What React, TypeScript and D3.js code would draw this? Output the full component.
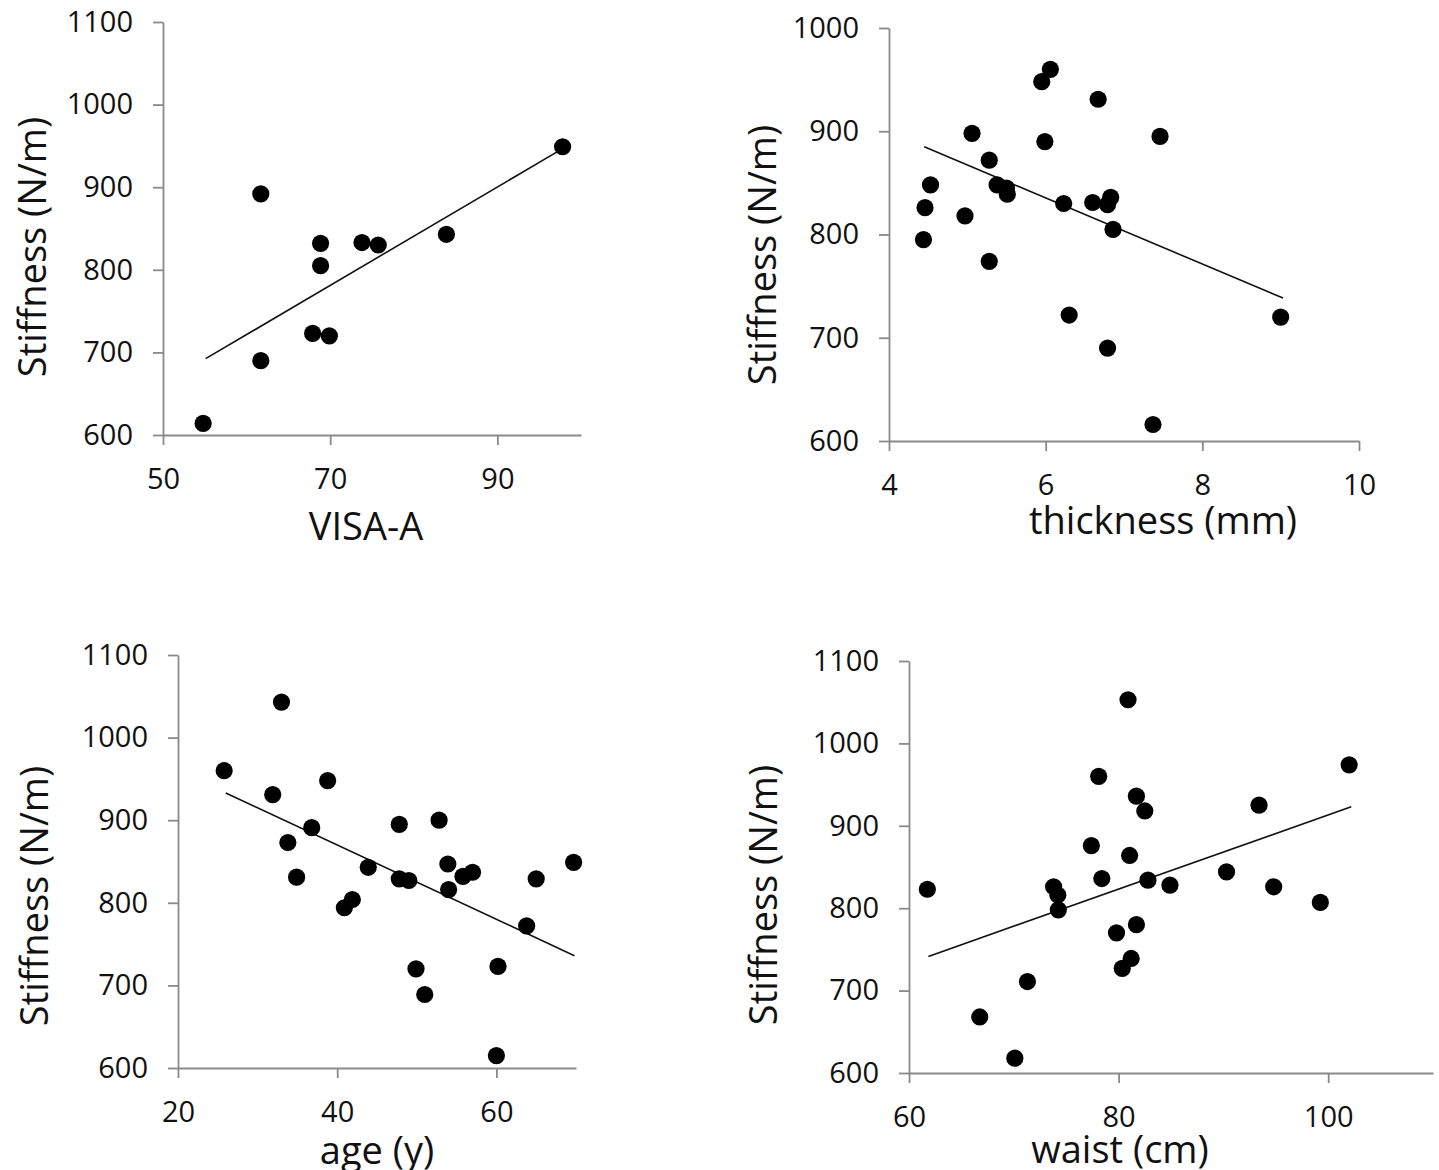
import React, { useEffect, useRef } from 'react';
import * as d3 from 'd3';

// VISA-A panel
const visaX = [54.8, 61.7, 61.7, 68.85, 68.85, 67.9, 69.9, 73.8, 75.75, 83.9, 97.8];
const visaY = [614, 892, 690, 832, 805, 723, 720, 833, 830, 843, 949];
const visaTrend = [[55.1, 692.4], [97.6, 945.5]];

// thickness panel
const thickX = [4.44, 4.46, 4.53, 4.97, 5.06, 5.28, 5.28, 5.38, 5.5, 5.51, 5.95, 6.06, 5.99, 6.23, 6.3, 6.6, 6.67, 6.79, 6.83, 6.86, 6.79, 7.46, 7.37, 9.0];
const thickY = [795, 826, 848, 818, 898, 872, 774, 848, 845, 839, 948, 960, 890, 830, 722, 831, 931, 829, 836, 805, 690, 895, 616, 720];
const thickTrend = [[4.45, 885], [9.03, 738.5]];

// age panel
const ageX = [25.8, 33.0, 31.9, 38.8, 36.8, 33.8, 34.9, 40.9, 41.9, 43.9, 47.8, 47.8, 49.0, 52.8, 53.9, 54.0, 55.8, 57.0, 49.9, 51.0, 60.0, 60.2, 63.8, 65.0, 69.7];
const ageY = [960, 1043, 931, 948, 891, 873, 831, 794, 804, 843, 895, 829, 827, 900, 847, 816, 832, 837, 720, 689, 615, 723, 772, 829, 849];
const ageTrend = [[26.0, 933], [69.8, 736]];

// waist panel
const waistX = [61.75, 66.75, 70.1, 71.3, 73.8, 74.2, 74.25, 77.4, 78.1, 78.4, 79.8, 80.35, 80.9, 81.05, 81.2, 81.7, 81.7, 82.5, 82.8, 84.9, 90.3, 93.4, 94.8, 99.25, 102.0];
const waistY = [823, 668, 618, 711, 826, 816, 798, 876, 960, 836, 770, 727, 1053, 864, 739, 936, 780, 918, 834, 828, 844, 925, 826, 807, 974];
const waistTrend = [[61.85, 741.5], [102.2, 923]];

const xTitles = ['VISA-A', 'thickness (mm)', 'age (y)', 'waist (cm)'];
const yTitle = 'Stiffness (N/m)';

const panels = [
  { xs: visaX, ys: visaY, trend: visaTrend, xDom: [50, 100], xR: [163, 581], yDom: [600, 1100], yR: [435, 22],
    xTicks: [50, 70, 90], yTicks: [600, 700, 800, 900, 1000, 1100], title: xTitles[0], tx: 366, ty: 540, lx: 46, ly: 247 },
  { xs: thickX, ys: thickY, trend: thickTrend, xDom: [4, 10], xR: [889, 1359], yDom: [600, 1000], yR: [441, 28],
    xTicks: [4, 6, 8, 10], yTicks: [600, 700, 800, 900, 1000], title: xTitles[1], tx: 1163, ty: 534, lx: 776, ly: 255 },
  { xs: ageX, ys: ageY, trend: ageTrend, xDom: [20, 70], xR: [178, 576], yDom: [600, 1100], yR: [1068, 655],
    xTicks: [20, 40, 60], yTicks: [600, 700, 800, 900, 1000, 1100], title: xTitles[2], tx: 377, ty: 1164, lx: 48, ly: 896 },
  { xs: waistX, ys: waistY, trend: waistTrend, xDom: [60, 110], xR: [909, 1433], yDom: [600, 1100], yR: [1073, 661],
    xTicks: [60, 80, 100], yTicks: [600, 700, 800, 900, 1000, 1100], title: xTitles[3], tx: 1120, ty: 1163, lx: 777, ly: 895 },
];

const FONT = '"Open Sans", "DejaVu Sans", sans-serif';

export default function App() {
  const ref = useRef<SVGSVGElement>(null);

  useEffect(() => {
    const svg = d3.select(ref.current);
    svg.selectAll('*').remove();

    panels.forEach((p) => {
      const x = d3.scaleLinear().domain(p.xDom).range(p.xR);
      const y = d3.scaleLinear().domain(p.yDom).range(p.yR);
      const g = svg.append('g');

      // axes
      const xAxis = d3.axisBottom(x).tickValues(p.xTicks).tickSize(10).tickSizeOuter(0).tickPadding(23).tickFormat(d3.format('d'));
      const yAxis = d3.axisLeft(y).tickValues(p.yTicks).tickSize(10).tickSizeOuter(0).tickPadding(20).tickFormat(d3.format('d'));

      const gx = g.append('g').attr('transform', 'translate(0,' + p.yR[0] + ')').call(xAxis);
      const gy = g.append('g').attr('transform', 'translate(' + p.xR[0] + ',0)').call(yAxis);
      [gx, gy].forEach((a) => {
        a.select('.domain').attr('stroke', '#8a8a8a').attr('stroke-width', 1.8);
        a.selectAll('.tick line').attr('stroke', '#8a8a8a').attr('stroke-width', 1.8);
        a.selectAll('.tick text').attr('fill', '#111').style('font-family', FONT).style('font-size', '29px');
      });

      // trend line
      g.append('line')
        .attr('x1', x(p.trend[0][0])).attr('y1', y(p.trend[0][1]))
        .attr('x2', x(p.trend[1][0])).attr('y2', y(p.trend[1][1]))
        .attr('stroke', '#111').attr('stroke-width', 1.6);

      // points
      g.append('g').selectAll('circle')
        .data(p.xs.map((v, i) => [v, p.ys[i]]))
        .enter()
        .append('circle')
        .attr('cx', (d) => x(d[0]))
        .attr('cy', (d) => y(d[1]))
        .attr('r', 8.6)
        .attr('fill', '#000');

      // titles
      g.append('text')
        .attr('x', p.tx).attr('y', p.ty)
        .attr('text-anchor', 'middle')
        .style('font-family', FONT).style('font-size', '38px').attr('fill', '#111')
        .text(p.title);
      g.append('text')
        .attr('transform', 'translate(' + p.lx + ',' + p.ly + ') rotate(-90)')
        .attr('text-anchor', 'middle')
        .style('font-family', FONT).style('font-size', '38px').attr('fill', '#111')
        .text(yTitle);
    });
  }, []);

  return (
    <svg ref={ref} width={1439} height={1170}
      style={{ position: 'absolute', left: 0, top: 0, background: '#fff' }} />
  );
}
